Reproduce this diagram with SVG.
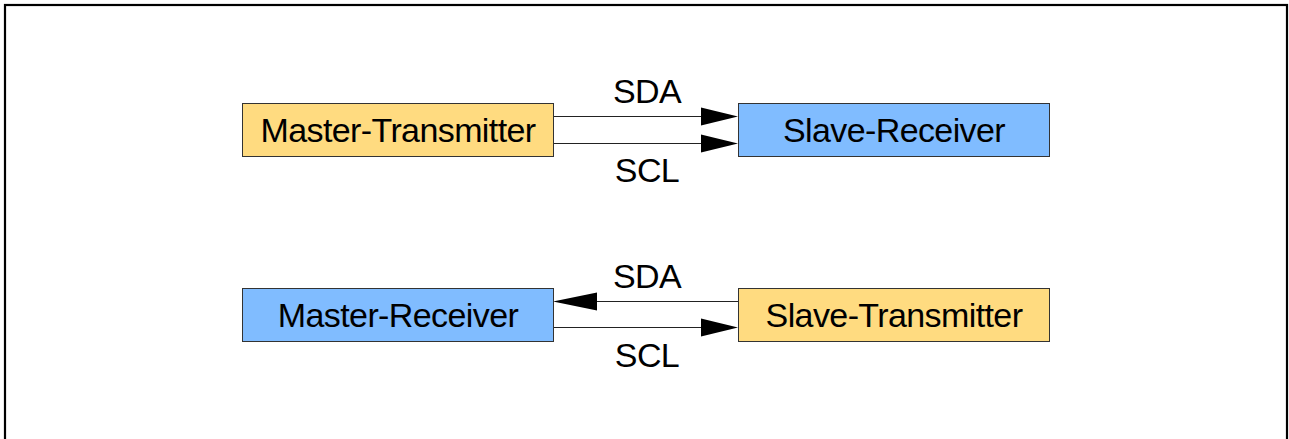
<svg xmlns="http://www.w3.org/2000/svg" width="1289" height="439" viewBox="0 0 1289 439">
<style>
.box{stroke:#333;stroke-width:1}
.y{fill:#ffdb80}
.b{fill:#80bcff}
.t{font-family:"Liberation Sans",Arial,sans-serif;font-size:34px;letter-spacing:-0.6px;fill:#000;text-anchor:middle}
.ln{stroke:#222;stroke-width:1.2;fill:none}
.ah{fill:#000}
</style>
<rect x="0" y="0" width="1289" height="439" fill="#fff"/>
<rect x="5" y="5" width="1282" height="500" fill="none" stroke="#000" stroke-width="2.2"/>
<g id="connectors">
<line class="ln" x1="553" y1="116.5" x2="705" y2="116.5"/>
<polygon class="ah" points="738,116.5 701,107.5 701,125.5"/>
<line class="ln" x1="553" y1="143.5" x2="705" y2="143.5"/>
<polygon class="ah" points="738,143.5 701,134.5 701,152.5"/>
<line class="ln" x1="590" y1="301.5" x2="738" y2="301.5"/>
<polygon class="ah" points="553,301.5 597,292.5 597,310.5"/>
<line class="ln" x1="553" y1="327.5" x2="705" y2="327.5"/>
<polygon class="ah" points="738,327.5 701,318.5 701,336.5"/>
<text class="t" x="647" y="103">SDA</text>
<text class="t" x="647" y="182">SCL</text>
<text class="t" x="647" y="288">SDA</text>
<text class="t" x="647" y="367">SCL</text>
</g>
<g id="master-transmitter">
<rect class="box y" x="242.5" y="103.5" width="311" height="53"/>
<text class="t" x="398" y="142">Master-Transmitter</text>
</g>
<g id="slave-receiver">
<rect class="box b" x="738.5" y="103.5" width="311" height="53"/>
<text class="t" x="894" y="142">Slave-Receiver</text>
</g>
<g id="master-receiver">
<rect class="box b" x="242.5" y="288.5" width="311" height="53"/>
<text class="t" x="398" y="327">Master-Receiver</text>
</g>
<g id="slave-transmitter">
<rect class="box y" x="738.5" y="288.5" width="311" height="53"/>
<text class="t" x="894" y="327">Slave-Transmitter</text>
</g>
</svg>
